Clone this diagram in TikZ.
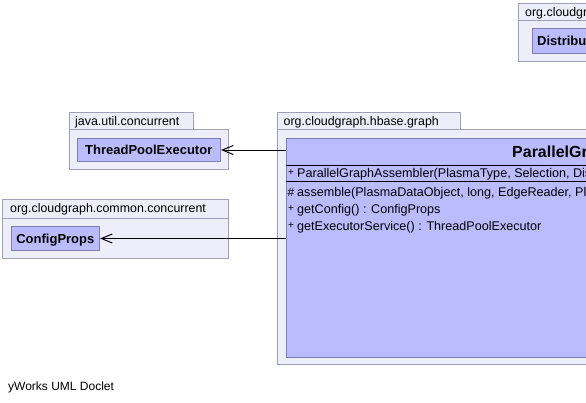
\documentclass[tikz,border=0pt]{standalone}
\usepackage{fontspec}
\setmainfont{Liberation Sans}
\usetikzlibrary{arrows.meta}
\definecolor{pkgfill}{RGB}{238,238,250}
\definecolor{pkgline}{RGB}{160,160,184}
\definecolor{clsfill}{RGB}{187,187,255}
\definecolor{clsline}{RGB}{128,128,176}
\tikzset{
  pkgbox/.style={draw=pkgline, fill=pkgfill, line width=1pt, inner sep=0pt, anchor=north west},
  clsbox/.style={draw=clsline, fill=clsfill, line width=1pt, inner sep=0pt, anchor=north west,
    font=\bfseries\fontsize{13}{15}\selectfont, text height=9.4pt, text depth=0pt},
  pkglabel/.style={font=\fontsize{12.4}{14}\selectfont, anchor=base west, inner sep=0pt},
  creditlabel/.style={font=\fontsize{12}{14}\selectfont, anchor=base west, inner sep=0pt},
  member/.style={font=\fontsize{12.6}{14}\selectfont, anchor=base west, inner sep=0pt},
  plusvis/.style={font=\fontsize{10}{12}\selectfont, anchor=base, inner sep=0pt},
  hashvis/.style={font=\fontsize{12}{14}\selectfont, anchor=base, inner sep=0pt},
  sepline/.style={draw=black, line width=1pt},
  dep/.style={draw=black, line width=1pt, -{Straight Barb[length=11pt,width=9pt]}},
}
\begin{document}
\begin{tikzpicture}[x=1pt,y=-1pt]
\useasboundingbox (0,0) rectangle (586,402);
\fill[white] (0,0) rectangle (586,402);
\clip (0,0) rectangle (586,402);

% package java.util.concurrent
\node[pkgbox, minimum width=124pt, minimum height=17pt] (p1tab) at (69,112) {};
\node[pkgbox, minimum width=159pt, minimum height=40pt] (p1) at (69,129) {};
\node[pkglabel] (p1lab) at (75,125) {java.util.concurrent};
\node[clsbox, minimum width=143.5pt, minimum height=23pt] (c1) at (76.5,138) {ThreadPoolExecutor};

% package org.cloudgraph.common.concurrent
\node[pkgbox, minimum width=226pt, minimum height=19pt] (p2tab) at (2,199) {};
\node[pkgbox, minimum width=226pt, minimum height=40pt] (p2) at (2,218) {};
\node[pkglabel] (p2lab) at (10,212.5) {org.cloudgraph.common.concurrent};
\node[clsbox, minimum width=88.3pt, minimum height=24pt] (c2) at (10.7,226) {ConfigProps};

% package org.cloudgraph.hbase.graph
\node[pkgbox, minimum width=183pt, minimum height=17pt] (p3tab) at (277,112) {};
\node[pkgbox, minimum width=330pt, minimum height=235pt] (p3) at (277,129) {};
\node[pkglabel] (p3lab) at (283.5,125) {org.cloudgraph.hbase.graph};
\node[clsbox, minimum width=320pt, minimum height=219pt] (c3) at (286,138) {};
\draw[sepline] (286,165) -- (606,165);
\draw[sepline] (286,181) -- (606,181);
\node[font=\bfseries\fontsize{16}{18}\selectfont, anchor=base west, inner sep=0pt] (c3n) at (512,157) {ParallelGraphAssembler};
\node[plusvis] (v1) at (291,175) {+};
\node[member] (m1) at (297,177.5) {ParallelGraphAssembler(PlasmaType, Selection, DistributedReader, Timestamp, ConfigProps)};
\node[hashvis] (v2) at (291,196) {\#};
\node[member] (m2) at (297,196) {assemble(PlasmaDataObject, long, EdgeReader, PlasmaDataObject, RowReader, int) : void};
\node[plusvis] (v3) at (291,211) {+};
\node[member] (m3) at (297,213) {getConfig() : ConfigProps};
\node[plusvis] (v4) at (291,228) {+};
\node[member] (m4) at (297,230) {getExecutorService() : ThreadPoolExecutor};

% package top right
\node[pkgbox, minimum width=90pt, minimum height=17pt] (p4tab) at (518,3) {};
\node[pkgbox, minimum width=90pt, minimum height=41pt] (p4) at (518,20) {};
\node[pkglabel] (p4lab) at (525,16.5) {org.cloudgraph.hbase.io};
\node[clsbox, minimum width=80pt, minimum height=25pt] (c4) at (531.5,28) {};
\node[font=\bfseries\fontsize{13}{15}\selectfont, anchor=west, inner sep=0pt, text height=9.4pt, text depth=0pt] (c4n) at (537,40.5) {DistributedReader};

% dependencies
\draw[dep] (c3.west |- c1.east) -- (c1.east);
\draw[dep] (c3.west |- c2.east) -- (c2.east);

\node[creditlabel] (credit) at (8,390) {yWorks UML Doclet};
\end{tikzpicture}
\end{document}
